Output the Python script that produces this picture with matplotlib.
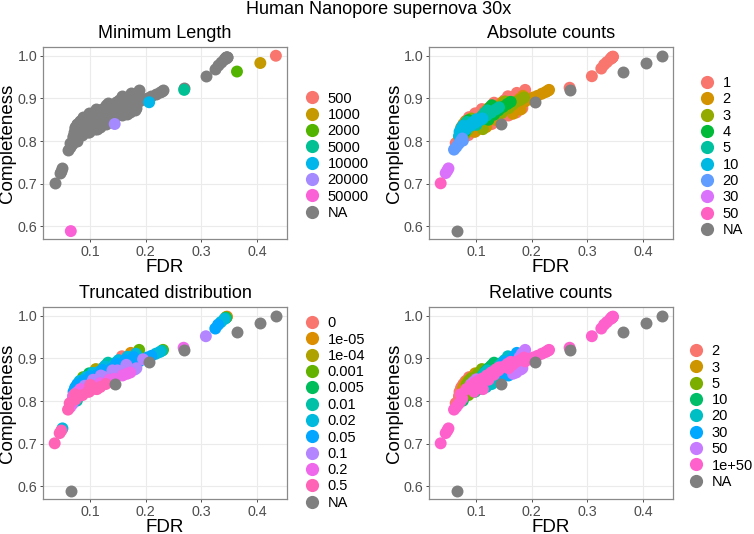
import matplotlib
matplotlib.use("Agg")
import matplotlib.pyplot as plt
from matplotlib.lines import Line2D
import numpy as np

plt.rcParams['font.family'] = ['Liberation Sans', 'DejaVu Sans']

# ---- parameter-sweep runs (FDR, completeness, settings) ----
fdr = [
    # abs 1
    0.346, 0.3455, 0.345, 0.3445, 0.344, 0.343, 0.341, 0.335, 0.330, 0.325, 0.308, 0.268,
    0.087, 0.081, 0.077, 0.079, 0.073, 0.063,
    0.098, 0.092, 0.088, 0.090, 0.084, 0.074,
    0.110, 0.104, 0.100, 0.102, 0.096, 0.086,
    0.132, 0.126, 0.122, 0.124, 0.118, 0.108,
    0.157, 0.151, 0.147, 0.149, 0.143, 0.128,
    0.173, 0.167, 0.163, 0.165, 0.158,
    0.188, 0.182, 0.178, 0.183, 0.172,
    # abs 2
    0.231, 0.229, 0.225, 0.218, 0.210, 0.202, 0.195, 0.188, 0.096,
    0.184, 0.178, 0.174, 0.180, 0.166,
    0.147, 0.142, 0.138, 0.140, 0.134, 0.118,
    0.121, 0.116, 0.112, 0.114, 0.108, 0.098,
    0.081, 0.077, 0.073, 0.075, 0.069,
    # abs 3
    0.186, 0.180, 0.172, 0.165, 0.158, 0.112,
    0.152, 0.148, 0.144, 0.146,
    0.091, 0.087, 0.083, 0.085, 0.079,
    # abs 4
    0.162, 0.156, 0.148, 0.140, 0.132, 0.122,
    0.128, 0.124, 0.120,
    0.086, 0.082, 0.079, 0.080,
    # abs 5
    0.141, 0.135, 0.127, 0.119, 0.111, 0.100,
    0.120, 0.115, 0.110, 0.105,
    0.083, 0.079, 0.076, 0.076,
    # abs 10
    0.111, 0.105, 0.098, 0.090, 0.082, 0.072,
    0.100, 0.095, 0.090,
    0.076, 0.073, 0.070, 0.069,
    # abs 20
    0.075, 0.072, 0.068, 0.064, 0.060, 0.076,
    # abs 30
    0.050, 0.048, 0.045,
    # abs 50
    0.036,
]
completeness = [
    # abs 1
    0.998, 0.9972, 0.9965, 0.996, 0.995, 0.994, 0.992, 0.985, 0.979, 0.970, 0.952, 0.925,
    0.856, 0.847, 0.839, 0.823, 0.808, 0.795,
    0.865, 0.856, 0.848, 0.832, 0.817, 0.804,
    0.875, 0.866, 0.858, 0.842, 0.827, 0.814,
    0.890, 0.881, 0.873, 0.857, 0.842, 0.829,
    0.905, 0.896, 0.888, 0.872, 0.852, 0.840,
    0.913, 0.904, 0.896, 0.880, 0.860,
    0.920, 0.911, 0.903, 0.877, 0.867,
    # abs 2
    0.920, 0.918, 0.915, 0.911, 0.906, 0.902, 0.898, 0.893, 0.822,
    0.906, 0.899, 0.891, 0.874, 0.864,
    0.891, 0.884, 0.876, 0.862, 0.850, 0.833,
    0.876, 0.869, 0.861, 0.846, 0.834, 0.822,
    0.846, 0.840, 0.832, 0.818, 0.809,
    # abs 3
    0.902, 0.897, 0.892, 0.885, 0.877, 0.828,
    0.893, 0.887, 0.879, 0.866,
    0.853, 0.847, 0.839, 0.826, 0.815,
    # abs 4
    0.892, 0.887, 0.880, 0.872, 0.862, 0.850,
    0.884, 0.878, 0.870,
    0.849, 0.843, 0.835, 0.823,
    # abs 5
    0.879, 0.874, 0.867, 0.860, 0.851, 0.838,
    0.872, 0.866, 0.858, 0.850,
    0.845, 0.838, 0.830, 0.820,
    # abs 10
    0.853, 0.848, 0.843, 0.836, 0.828, 0.816,
    0.851, 0.845, 0.839,
    0.836, 0.830, 0.822, 0.812,
    # abs 20
    0.806, 0.800, 0.793, 0.786, 0.780, 0.801,
    # abs 30
    0.736, 0.731, 0.725,
    # abs 50
    0.701,
]
abs_count = (['1'] * 52 + ['2'] * 31 + ['3'] * 15 + ['4'] * 13 + ['5'] * 14
             + ['10'] * 13 + ['20'] * 6 + ['30'] * 3 + ['50'] * 1)
trunc = [
    # abs 1
    '0', '1e-05', '1e-04', '0.001', '0.005', '0.01', '0.02', '0.02', '0.05', '0.05', '0.1', '0.2',
    '0.001', '0.02', '0.05', '0.1', '0.2', '0.5',
    '0.005', '0.02', '0.05', '0.1', '0.2', '0.5',
    '1e-04', '0.02', '0.05', '0.1', '0.2', '0.5',
    '0.01', '0.02', '0.05', '0.1', '0.2', '0.5',
    '0', '0.02', '0.05', '0.1', '0.2', '0.5',
    '1e-05', '0.02', '0.05', '0.1', '0.2',
    '0.001', '0.02', '0.05', '0.1', '0.2',
    # abs 2
    '0.001', '0.01', '0.02', '0.02', '0.05', '0.05', '0.1', '0.05', '0.5',
    '0.005', '0.02', '0.05', '0.1', '0.2',
    '0.01', '0.02', '0.05', '0.1', '0.2', '0.5',
    '1e-04', '0.02', '0.05', '0.1', '0.2', '0.5',
    '0', '0.02', '0.05', '0.1', '0.2',
    # abs 3
    '0.01', '0.02', '0.05', '0.1', '0.05', '0.5',
    '0.005', '0.02', '0.05', '0.1',
    '1e-04', '0.02', '0.05', '0.1', '0.2',
    # abs 4
    '0.001', '0.02', '0.05', '0.1', '0.05', '0.1',
    '0.01', '0.02', '0.05',
    '0.01', '0.02', '0.05', '0.1',
    # abs 5
    '0.005', '0.02', '0.05', '0.1', '0.02', '0.5',
    '1e-04', '0.02', '0.05', '0.1',
    '0', '0.02', '0.05', '0.1',
    # abs 10
    '0.01', '0.02', '0.05', '0.1', '0.2', '0.5',
    '0.001', '0.02', '0.05',
    '1e-05', '0.02', '0.05', '0.1',
    # abs 20
    '0.02', '0.05', '0.1', '0.2', '0.5', '0.01',
    # abs 30
    '0.02', '0.5', '0.5',
    # abs 50
    '0.5',
]
rel_count = (
    # abs 1
    ['1e+50'] * 12 + ['2'] * 6 + ['3'] * 6 + ['5'] * 6 + ['10'] * 6 + ['20'] * 6 + ['30'] * 5 + ['50'] * 5
    # abs 2
    + ['1e+50'] * 9 + ['50'] * 5 + ['20'] * 6 + ['10'] * 6 + ['2'] * 5
    # abs 3
    + ['1e+50'] * 6 + ['30'] * 4 + ['5'] * 5
    # abs 4
    + ['1e+50'] * 6 + ['10'] * 3 + ['3'] * 4
    # abs 5
    + ['1e+50'] * 6 + ['20'] * 4 + ['3'] * 4
    # abs 10
    + ['1e+50'] * 6 + ['50'] * 3 + ['2'] * 4
    # abs 20, 30, 50
    + ['1e+50'] * 5 + ['10'] * 1 + ['1e+50'] * 3 + ['1e+50'] * 1
)

# ---- minimum-length runs ----
minlen_labels = ['500', '1000', '2000', '5000', '10000', '20000', '50000']
minlen_fdr = [0.434, 0.406, 0.364, 0.269, 0.206, 0.144, 0.065]
minlen_comp = [1.000, 0.983, 0.963, 0.920, 0.891, 0.840, 0.589]

abs_levels = ['1', '2', '3', '4', '5', '10', '20', '30', '50']
trunc_levels = ['0', '1e-05', '1e-04', '0.001', '0.005', '0.01', '0.02', '0.05', '0.1', '0.2', '0.5']
rel_levels = ['2', '3', '5', '10', '20', '30', '50', '1e+50']

hue7 = ['#F8766D', '#C49A00', '#53B400', '#00C094', '#00B6EB', '#A58AFF', '#FB61D7']
hue9 = ['#F8766D', '#D39200', '#93AA00', '#00BA38', '#00C19F', '#00B9E3', '#619CFF', '#DB72FB', '#FF61C3']
hue11 = ['#F8766D', '#DB8E00', '#AEA200', '#64B200', '#00BD5C', '#00C1A7', '#00BADE', '#00A6FF',
         '#B385FF', '#EF67EB', '#FF63B6']
hue8 = ['#F8766D', '#CD9600', '#7CAE00', '#00BE67', '#00BFC4', '#00A9FF', '#C77CFF', '#FF61CC']
NA_COL = '#7F7F7F'

assert len(fdr) == len(completeness) == len(abs_count) == len(trunc) == len(rel_count)

W, H = 754, 534
fig = plt.figure(figsize=(W / 100, H / 100), dpi=100)

S = 74


def px_axes(x0, y0, x1, y1):
    return fig.add_axes([x0 / W, 1 - y1 / H, (x1 - x0) / W, (y1 - y0) / H])


def style(ax):
    ax.set_xlim(0.015, 0.454)
    ax.set_ylim(0.5705, 1.0205)
    ax.set_xticks([0.1, 0.2, 0.3, 0.4])
    ax.set_yticks([0.6, 0.7, 0.8, 0.9, 1.0])
    ax.set_xticklabels(['0.1', '0.2', '0.3', '0.4'])
    ax.set_yticklabels(['0.6', '0.7', '0.8', '0.9', '1.0'])
    ax.grid(True, color='#EBEBEB', linewidth=0.8, zorder=0)
    ax.set_axisbelow(True)
    for sp in ax.spines.values():
        sp.set_color('#8A8A8A')
        sp.set_linewidth(0.9)
    ax.tick_params(labelsize=10.3, colors='#4D4D4D', length=2.5, width=0.7, pad=1.5)


def legend(labels, colors, kx, ky):
    handles = [Line2D([], [], marker='o', linestyle='', markersize=9.5,
                      markerfacecolor=c, markeredgewidth=0) for c in colors]
    fig.legend(handles, labels, loc='center left', bbox_to_anchor=((kx - 7) / W, 1 - ky / H),
               frameon=False, fontsize=10.5, handlelength=1.0, handletextpad=0.55,
               labelspacing=0.16, borderpad=0, borderaxespad=0)


def labels(box):
    cx = (box[0] + box[2]) / 2
    cy = (box[1] + box[3]) / 2
    fig.text(cx / W, 1 - (box[3] + 28) / H, 'FDR', ha='center', va='center', fontsize=13.5)
    fig.text((box[0] - 35) / W, 1 - cy / H, 'Completeness', ha='center', va='center',
             rotation=90, fontsize=13.5)


def title(box, text):
    cx = (box[0] + box[2]) / 2
    fig.text(cx / W, 1 - (box[1] - 14) / H, text, ha='center', va='center', fontsize=13)


def panel(box, text, cat, levels, colors, kx, ky):
    ax = px_axes(*box)
    style(ax)
    x = np.array(fdr)
    y = np.array(completeness)
    idx = np.array([levels.index(c) for c in cat])
    order = np.argsort(idx, kind='stable')
    ax.scatter(x[order], y[order], s=S, c=[colors[i] for i in idx[order]],
               linewidths=0, zorder=2)
    ax.scatter(minlen_fdr, minlen_comp, s=S, c=NA_COL, linewidths=0, zorder=3)
    title(box, text)
    labels(box)
    legend(levels + ['NA'], colors + [NA_COL], kx, ky)
    return ax


# Minimum Length
b1 = (43, 47, 287, 239)
ax1 = px_axes(*b1)
style(ax1)
ax1.scatter(fdr, completeness, s=S, c=NA_COL, linewidths=0, zorder=2)
ax1.scatter(minlen_fdr, minlen_comp, s=S, c=hue7, linewidths=0, zorder=3)
title(b1, 'Minimum Length')
labels(b1)
legend(minlen_labels + ['NA'], hue7 + [NA_COL], 312, 155.7)

panel((429, 47, 673, 239), 'Absolute counts', abs_count, abs_levels, hue9, 707, 156.5)
panel((43, 307, 287, 499), 'Truncated distribution', trunc, trunc_levels, hue11, 312, 413)
panel((429, 307, 673, 499), 'Relative counts', rel_count, rel_levels, hue8, 696, 416.5)

fig.text(379 / W, 1 - 10 / H, 'Human Nanopore supernova 30x', ha='center', va='center', fontsize=13)

fig.savefig('out.png', dpi=100)
